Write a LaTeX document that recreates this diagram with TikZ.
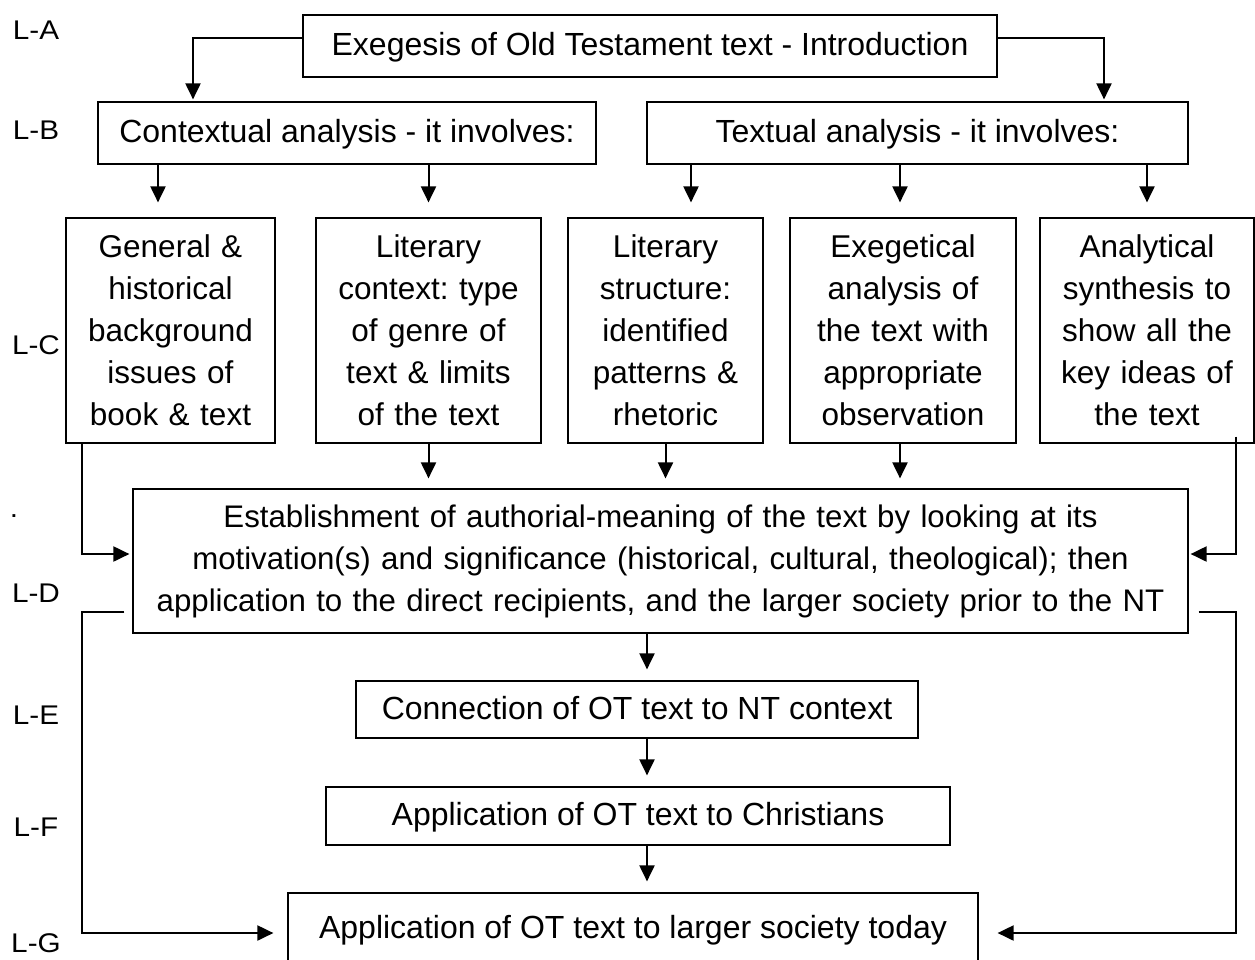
\documentclass[tikz,border=0pt]{standalone}
\usepackage{fontspec}
\setmainfont{Liberation Sans}
\newfontfamily\labelfont[FakeStretch=1.1]{Liberation Sans}
\usetikzlibrary{arrows.meta}

\tikzset{
  box/.style={draw, line width=1.2pt, inner sep=0pt, align=center,
    font=\fontsize{32}{42}\selectfont},
  onebox/.style={box, text height=24pt, text depth=5pt},
  tallbox/.style={box, text width=190pt, minimum height=225pt,
    font=\fontsize{31.5}{42}\selectfont},
  level/.style={font=\labelfont\fontsize{27}{30}\selectfont},
  link/.style={->, line width=2pt},
}

\begin{document}
\frenchspacing
\begin{tikzpicture}[x=1pt, y=-1pt, >={Triangle[length=16pt,width=15pt]}]
    \useasboundingbox (0,0) rectangle (1255,959);

    \node[level] (la) at (36,30) {L-A};
    \node[level] (lb) at (36,130) {L-B};
    \node[level] (lc) at (36,345) {L-C};
    \node[level] (ldot) at (14,516) {.};
    \node[level] (ld) at (36,593) {L-D};
    \node[level] (le) at (36,715) {L-E};
    \node[level] (lf) at (36,827) {L-F};
    \node[level] (lg) at (36,943) {L-G};

    \node[onebox, minimum width=694pt, minimum height=62pt] (intro) at (650,46) {Exegesis of Old Testament text - Introduction};

    \node[onebox, minimum width=498pt, minimum height=62pt] (context) at (347,133) {Contextual analysis - it involves:};
    \node[onebox, minimum width=541pt, minimum height=62pt] (textual) at (917.5,133) {Textual analysis - it involves:};

    \node[tallbox, minimum width=209pt] (background) at (170.5,330.5) {General \&\\historical\\background\\issues of\\book \& text};
    \node[tallbox, minimum width=225pt] (litcontext) at (428.5,330.5) {Literary\\context: type\\of genre of\\text \& limits\\of the text};
    \node[tallbox, minimum width=195pt] (structure) at (665.5,330.5) {Literary\\structure:\\identified\\patterns \&\\rhetoric};
    \node[tallbox, minimum width=226pt] (exegetical) at (903,330.5) {Exegetical\\analysis of\\the text with\\appropriate\\observation};
    \node[tallbox, minimum width=214pt] (synthesis) at (1147,330.5) {Analytical\\synthesis to\\show all the\\key ideas of\\the text};

    \node[box, font=\fontsize{31.2}{42}\selectfont, text width=1050pt, minimum width=1055pt, minimum height=144pt] (meaning) at (660.5,561) {Establishment of authorial-meaning of the text by looking at its\\motivation(s) and significance (historical, cultural, theological); then\\application to the direct recipients, and the larger society prior to the NT};

    \node[onebox, minimum width=562pt, minimum height=57pt] (connect) at (637,709.5) {Connection of OT text to NT context};
    \node[onebox, minimum width=624pt, minimum height=58pt] (christians) at (638,816) {Application of OT text to Christians};
    \node[onebox, minimum width=690pt, minimum height=72pt] (society) at (633,929) {Application of OT text to larger society today};

    % A -> B
    \draw[link, shorten >=2pt] ([yshift=8pt]intro.west) -| ([xshift=-154pt]context.north);
    \draw[link, shorten >=2pt] ([yshift=8pt]intro.east) -| ([xshift=186.5pt]textual.north);

    % B -> C
    \draw[link, shorten >=15pt] ([xshift=-12.5pt]background.north |- context.south) -- ([xshift=-12.5pt]background.north);
    \draw[link, shorten >=15pt] (litcontext.north |- context.south) -- (litcontext.north);
    \draw[link, shorten >=15pt] ([xshift=25.5pt]structure.north |- textual.south) -- ([xshift=25.5pt]structure.north);
    \draw[link, shorten >=15pt] ([xshift=-3pt]exegetical.north |- textual.south) -- ([xshift=-3pt]exegetical.north);
    \draw[link, shorten >=15pt] (synthesis.north |- textual.south) -- (synthesis.north);

    % C -> D
    \draw[link, shorten >=10pt] (litcontext.south) -- (litcontext.south |- meaning.north);
    \draw[link, shorten >=10pt] (structure.south) -- (structure.south |- meaning.north);
    \draw[link, shorten >=10pt] ([xshift=-3pt]exegetical.south) -- ([xshift=-3pt]exegetical.south |- meaning.north);
    \draw[link, shorten >=3pt] ([xshift=17pt]background.south west) |- ([yshift=7pt]meaning.west);
    \draw[link, shorten >=2pt] ([xshift=-19pt,yshift=7pt]synthesis.south east) |- ([yshift=7pt]meaning.east);

    % D -> E -> F -> G
    \draw[link, shorten >=11pt] ([xshift=10pt]connect.north |- meaning.south) -- ([xshift=10pt]connect.north);
    \draw[link, shorten >=11pt] ([xshift=10pt]connect.south) -- ([xshift=10pt]connect.south |- christians.north);
    \draw[link, shorten >=11pt] ([xshift=9pt]christians.south) -- ([xshift=9pt]christians.south |- society.north);

    % D -> G round the sides
    \draw[link, shorten >=14pt] ([xshift=-8pt,yshift=-51pt]meaning.west) -- ++(-42,0) |- ([yshift=-4pt]society.west);
    \draw[link, shorten >=19pt] ([xshift=10pt,yshift=-51pt]meaning.east) -- ++(37,0) |- ([yshift=-4pt]society.east);
\end{tikzpicture}
\end{document}
